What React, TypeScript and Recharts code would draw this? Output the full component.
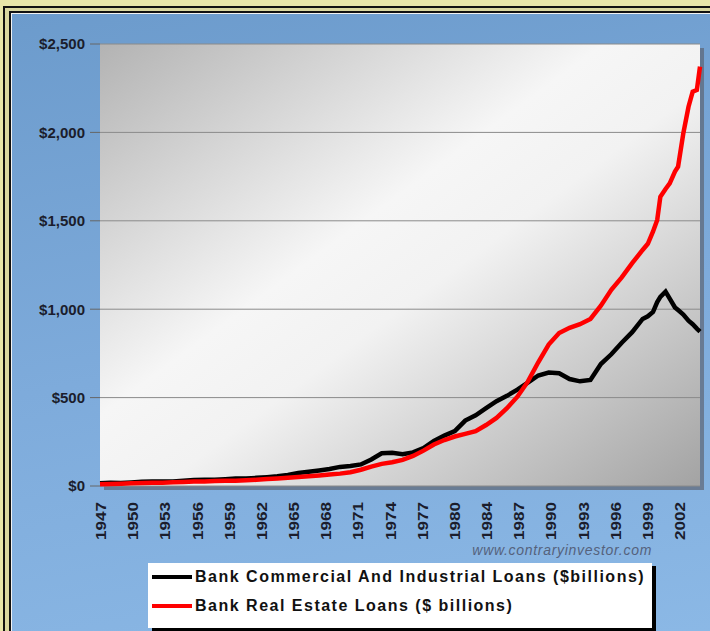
import React from "react";
import { LineChart, Line, XAxis, YAxis, CartesianGrid, Legend } from "recharts";

// x positions (fractional years)
const years = [
  1947, 1948, 1949, 1950, 1951, 1952, 1953, 1954, 1955, 1956, 1957, 1958, 1959,
  1960, 1961, 1962, 1963, 1964, 1965, 1966, 1967, 1968, 1969, 1970, 1971, 1972,
  1973, 1974, 1975, 1976, 1977, 1978, 1979, 1980, 1981, 1982, 1983, 1984, 1985,
  1986, 1987, 1988, 1989, 1990, 1991, 1992, 1993, 1994, 1995, 1996, 1997, 1998,
  1999, 1999.5, 2000, 2000.4, 2000.7, 2001.2, 2001.6, 2002.1, 2002.4, 2002.9,
  2003.4, 2003.8, 2004.2, 2004.5,
];

// Bank Commercial And Industrial Loans ($billions)
const ciLoans = [
  16, 18, 17, 20, 24, 26, 26, 26, 30, 34, 36, 35, 38,
  42, 43, 46, 50, 55, 63, 73, 80, 88, 96, 108, 113, 122,
  150, 185, 188, 180, 190, 215, 255, 285, 310, 370, 400, 440, 480,
  510, 545, 585, 625, 642, 638, 605, 592, 600, 690, 745, 810, 870,
  945, 960, 985, 1040, 1070, 1099, 1060, 1010, 995, 970,
  935, 915, 890, 873,
];

// Bank Real Estate Loans ($ billions)
const reLoans = [
  10, 12, 13, 15, 17, 18, 19, 21, 23, 25, 26, 28, 29,
  30, 32, 35, 39, 43, 47, 51, 55, 60, 65, 70, 78, 92,
  110, 125, 134, 148, 170, 200, 235, 260, 280, 295, 310, 345, 385,
  440, 505, 590, 700, 800, 865, 895, 915, 945, 1020, 1110, 1180, 1260,
  1335, 1370, 1440, 1505, 1636, 1680, 1712, 1778, 1806, 1995,
  2145, 2230, 2240, 2372,
];

const tickLabels = [
  "1947", "1950", "1953", "1956", "1959", "1962", "1965", "1968", "1971", "1974",
  "1977", "1980", "1984", "1987", "1990", "1993", "1996", "1999", "2002",
];
const yTicks = [0, 500, 1000, 1500, 2000, 2500];

const seriesNames = [
  "Bank Commercial And Industrial Loans ($billions)",
  "Bank Real Estate Loans ($ billions)",
];

const data = years.map((y, i) => ({ year: y, ci: ciLoans[i], re: reLoans[i] }));
// labels were placed every 37 months starting Jan 1947
const tickPositions = tickLabels.map((_, i) => 1947 + (i * 37) / 12);

const FONT = "Arial, 'Liberation Sans', Helvetica, sans-serif";

const XTick = (props: any) => {
  const { x, y, index } = props;
  return (
    <text
      x={0}
      y={0}
      transform={`translate(${x + 6},${y + 8}) rotate(-90)`}
      textAnchor="end"
      fontFamily={FONT}
      fontWeight="bold"
      fontSize={15}
      textLength={38}
      lengthAdjust="spacingAndGlyphs"
      fill="#1b1d2c"
    >
      {tickLabels[index]}
    </text>
  );
};

const LegendContent = () => (
  <div style={{ position: "relative", width: 520, height: 90, fontFamily: FONT }}>
    <div
      style={{
        position: "absolute",
        right: 16,
        top: 2,
        fontStyle: "italic",
        fontSize: 14,
        letterSpacing: 0.7,
        color: "#55627c",
        whiteSpace: "nowrap",
      }}
    >
      www.contraryinvestor.com
    </div>
    <div
      style={{
        position: "absolute",
        left: 0,
        top: 23,
        width: 504,
        height: 65,
        background: "#ffffff",
        boxShadow: "4px 3px 0 #000",
      }}
    >
      {seriesNames.map((n, i) => (
        <div
          key={n}
          style={{
            position: "absolute",
            left: 4,
            top: 5 + i * 29,
            display: "flex",
            alignItems: "center",
            whiteSpace: "nowrap",
          }}
        >
          <div
            style={{
              width: 40,
              height: 4,
              background: i === 0 ? "#000" : "#ff0000",
              marginRight: 3,
            }}
          />
          <span style={{ fontWeight: "bold", fontSize: 16, letterSpacing: 1.5, color: "#111" }}>{n}</span>
        </div>
      ))}
    </div>
  </div>
);

export default function App() {
  return (
    <div
      style={{
        position: "absolute",
        left: 0,
        top: 0,
        width: 710,
        height: 631,
        background: "#e7e5a9",
        overflow: "hidden",
      }}
    >
      <div
        style={{
          position: "absolute",
          left: 3,
          top: 6,
          width: 720,
          height: 640,
          borderLeft: "2px solid #111",
          borderTop: "2px solid #111",
          background: "#d9d7a0",
        }}
      />
      <div
        style={{
          position: "absolute",
          left: 9,
          top: 11,
          width: 720,
          height: 640,
          borderLeft: "2px solid #111",
          borderTop: "2px solid #111",
          background: "linear-gradient(170deg, #6c9bcc 0%, #7eabdb 50%, #8cb9e6 100%)",
          boxShadow: "inset 1px 1px 0 #f2f2f2",
        }}
      />
      <div
        style={{
          position: "absolute",
          left: 104,
          top: 48,
          width: 600,
          height: 442,
          background: "#5a606b",
          opacity: 0.65,
        }}
      />
      <div style={{ position: "absolute", left: 0, top: 0 }}>
        <LineChart
          width={710}
          height={631}
          data={data}
          margin={{ top: 44, right: 10, bottom: 85, left: 0 }}
        >
          <defs>
            <linearGradient id="plotBg" x1="0" y1="0" x2="1" y2="1">
              <stop offset="0%" stopColor="#b3b3b3" />
              <stop offset="42%" stopColor="#f6f6f6" />
              <stop offset="55%" stopColor="#f2f2f2" />
              <stop offset="100%" stopColor="#a3a3a3" />
            </linearGradient>
          </defs>
          <CartesianGrid
            vertical={false}
            stroke="#8a8a8a"
            strokeWidth={1}
            fill="url(#plotBg)"
            fillOpacity={1}
          />
          <XAxis
            dataKey="year"
            type="number"
            domain={[1947, 2004.5]}
            ticks={tickPositions}
            interval={0}
            axisLine={false}
            tickLine={false}
            height={60}
            tick={<XTick />}
          />
          <YAxis
            width={100}
            domain={[0, 2500]}
            ticks={yTicks}
            axisLine={false}
            tickSize={10}
            tickMargin={5}
            tickLine={{ stroke: "#666" }}
            tickFormatter={(v: number) => "$" + v.toLocaleString("en-US")}
            tick={{ fontFamily: FONT, fontWeight: "bold", fontSize: 15, fill: "#1b1d2c" }}
          />
          <Line
            dataKey="ci"
            name={seriesNames[0]}
            stroke="#000000"
            strokeWidth={4.5}
            dot={false}
            isAnimationActive={false}
          />
          <Line
            dataKey="re"
            name={seriesNames[1]}
            stroke="#ff0000"
            strokeWidth={4.5}
            dot={false}
            isAnimationActive={false}
          />
          <Legend
            layout="horizontal"
            verticalAlign="middle"
            align="center"
            wrapperStyle={{ left: 148, top: 540, width: 520, height: 90 }}
            content={<LegendContent />}
          />
        </LineChart>
      </div>
    </div>
  );
}
